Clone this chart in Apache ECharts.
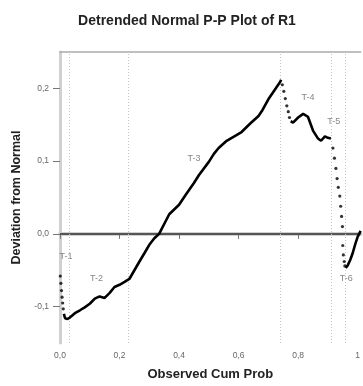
<!DOCTYPE html>
<html>
<head>
<meta charset="utf-8">
<script src="https://cdn.jsdelivr.net/npm/echarts@6/dist/echarts.min.js"></script>
<style>
  html, body { margin: 0; padding: 0; background: #fff; }
  #chart { width: 363px; height: 386px; }
</style>
</head>
<body>
<div id="chart"></div>
<script>
// main trace, three continuous stretches
const curveX = [0.013, 0.017, 0.025, 0.033, 0.05, 0.067, 0.083, 0.1, 0.117, 0.133, 0.15, 0.167, 0.183, 0.2, 0.217, 0.233, 0.25, 0.267, 0.283, 0.3, 0.317, 0.333, 0.367, 0.4, 0.423, 0.45, 0.467, 0.5, 0.517, 0.533, 0.56, 0.61, 0.64, 0.667, 0.68, 0.7, 0.72, 0.74, 0.743]
const curveY = [-0.110, -0.116, -0.117, -0.115, -0.109, -0.105, -0.101, -0.096, -0.089, -0.086, -0.088, -0.081, -0.073, -0.070, -0.066, -0.062, -0.050, -0.038, -0.027, -0.015, -0.006, 0.000, 0.027, 0.040, 0.054, 0.070, 0.081, 0.099, 0.110, 0.118, 0.128, 0.140, 0.152, 0.162, 0.170, 0.185, 0.197, 0.209, 0.212]
const seg2X = [0.775, 0.783, 0.8, 0.817, 0.833, 0.85, 0.867, 0.877, 0.89, 0.9, 0.91]
const seg2Y = [0.155, 0.153, 0.160, 0.165, 0.161, 0.142, 0.131, 0.128, 0.134, 0.132, 0.131]
const seg3X = [0.96, 0.967, 0.975, 0.983, 0.992, 1.0, 1.01]
const seg3Y = [-0.047, -0.043, -0.036, -0.027, -0.014, -0.004, 0.004]

// isolated points where the trace gets sparse
const dotX = [0.001, 0.003, 0.005, 0.007, 0.009, 0.011, 0.747, 0.752, 0.757, 0.762, 0.767, 0.771, 0.917, 0.922, 0.927, 0.931, 0.935, 0.94, 0.943, 0.946, 0.949, 0.95, 0.952, 0.955, 0.957]
const dotY = [-0.058, -0.068, -0.078, -0.087, -0.095, -0.103, 0.205, 0.196, 0.186, 0.176, 0.168, 0.160, 0.118, 0.104, 0.090, 0.076, 0.064, 0.052, 0.038, 0.024, 0.010, -0.016, -0.029, -0.038, -0.044]

// segment boundaries and their labels
const cutX = [0.027, 0.23, 0.743, 0.91, 0.957]
const tagNames = ['T-1', 'T-2', 'T-3', 'T-4', 'T-5', 'T-6']
const tagX = [0.02, 0.123, 0.45, 0.833, 0.92, 0.962]
const tagY = [-0.031, -0.062, 0.104, 0.188, 0.155, -0.061]

const xTicks = [0, 0.2, 0.4, 0.6, 0.8, 1]
const yTicks = [-0.1, 0, 0.1, 0.2]

const zip = (xs, ys) => xs.map((x, i) => [x, ys[i]])
const fmt = v => (v === 1 ? '1' : v.toFixed(1).replace('.', ','))

const chart = echarts.init(document.getElementById('chart'))

const lineStyleBase = { color: '#000', width: 2.6 }

const option = {
  backgroundColor: '#fff',
  animation: false,
  textStyle: { fontFamily: 'Liberation Sans, Arial, sans-serif' },
  title: {
    text: 'Detrended Normal P-P Plot of R1',
    left: 182,
    textAlign: 'center',
    top: 9,
    textStyle: { fontSize: 14, fontWeight: 'bold', color: '#222' }
  },
  grid: { left: 60, right: 0, top: 52, bottom: 38 },
  xAxis: [
    {
      type: 'value',
      min: 0,
      max: 1.01,
      name: 'Observed Cum Prob',
      nameLocation: 'middle',
      nameGap: 25,
      nameTextStyle: { fontSize: 13, fontWeight: 'bold', color: '#222' },
      splitLine: { show: false },
      axisLine: { show: true, lineStyle: { color: '#d0d0d0', width: 4 } },
      axisTick: { show: true, customValues: xTicks, length: 5, lineStyle: { color: '#777' } },
      axisLabel: { customValues: xTicks, formatter: fmt, fontSize: 8.5, color: '#666', margin: 8 }
    },
    {
      type: 'value',
      position: 'top',
      min: 0,
      max: 1.01,
      splitLine: { show: false },
      axisLine: { show: true, lineStyle: { color: '#aaa', width: 1.5 } },
      axisTick: { show: false },
      axisLabel: { show: false }
    }
  ],
  yAxis: {
    type: 'value',
    min: -0.15,
    max: 0.25,
    name: 'Deviation from Normal',
    nameLocation: 'middle',
    nameGap: 32,
    nameTextStyle: { fontSize: 12.5, fontWeight: 'bold', color: '#222' },
    splitLine: { show: false },
    axisLine: { show: true, lineStyle: { color: '#d0d0d0', width: 3 } },
    axisTick: { show: true, customValues: yTicks, length: 7, lineStyle: { color: '#777' } },
    axisLabel: { customValues: yTicks, formatter: fmt, fontSize: 8.5, color: '#666', margin: 11 }
  },
  series: [
    {
      type: 'line',
      data: zip(curveX, curveY),
      symbol: 'none',
      lineStyle: lineStyleBase,
      z: 5,
      markLine: {
        silent: true,
        symbol: 'none',
        label: { show: false },
        data: [
          { yAxis: 0, lineStyle: { color: '#555', width: 1.8, type: 'solid' } },
          ...cutX.map(x => ({ xAxis: x, lineStyle: { color: '#c4c4c4', width: 1, type: [1, 2] } }))
        ]
      }
    },
    { type: 'line', data: zip(seg2X, seg2Y), symbol: 'none', lineStyle: lineStyleBase, z: 5 },
    { type: 'line', data: zip(seg3X, seg3Y), symbol: 'none', lineStyle: lineStyleBase, z: 5 },
    {
      type: 'scatter',
      data: zip(dotX, dotY),
      symbolSize: 3.2,
      itemStyle: { color: '#000' },
      z: 5
    },
    {
      type: 'scatter',
      data: tagNames.map((n, i) => ({ name: n, value: [tagX[i], tagY[i]] })),
      symbolSize: 0,
      label: {
        show: true,
        position: 'inside',
        formatter: p => p.name,
        fontSize: 9,
        color: '#666'
      }
    }
  ]
}

chart.setOption(option)
</script>
</body>
</html>
